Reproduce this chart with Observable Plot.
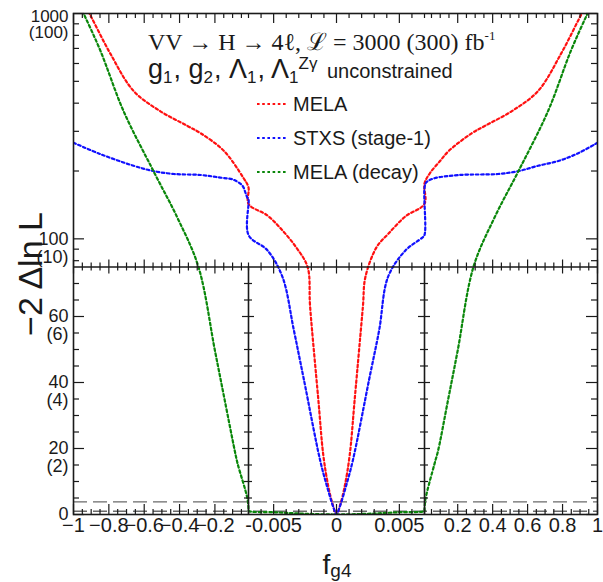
<!DOCTYPE html>
<html><head><meta charset="utf-8">
<script src="https://cdn.jsdelivr.net/npm/d3@7"></script>
<script src="https://cdn.jsdelivr.net/npm/@observablehq/plot@0.6"></script>
<style>
body{margin:0;background:#fff}
#chart{position:relative;width:603px;height:582px}
</style>
</head><body><div id="chart"></div>
<script>
// ---------------- data ----------------
const melaF = [-1, -0.91, -0.79, -0.66, -0.51, -0.355, -0.28, -0.15, -0.04, -0.01, -0.007, -0.0055, -0.0043, -0.0032, -0.0023, -0.0021, -0.00145, -0.00105, -0.00065, -0.0003, 0, 0.0003, 0.00065, 0.00105, 0.00145, 0.0021, 0.0023, 0.0032, 0.0041, 0.0055, 0.007, 0.01, 0.04, 0.1, 0.15, 0.28, 0.355, 0.51, 0.66, 0.79, 0.91, 1];
const melaV = [1350, 1000, 660, 453, 369, 317, 294, 246, 187, 169, 143, 127, 109, 91.5, 75, 63, 35, 18, 8.5, 3, 0, 3, 8.5, 18, 35, 63, 72, 92, 105, 126, 143, 176, 195, 222, 246, 294, 317, 369, 453, 660, 1000, 1350];

const stxsF = [-1, -0.85, -0.66, -0.55, -0.43, -0.28, -0.17, -0.095, -0.044, -0.027, -0.016, -0.01, -0.007, -0.0055, -0.0043, -0.0034, -0.0026, -0.0013, -0.00073, -0.00024, 0, 0.00024, 0.00073, 0.0013, 0.0026, 0.0034, 0.0041, 0.0055, 0.0068, 0.007, 0.01, 0.02, 0.06, 0.21, 0.43, 0.55, 0.66, 0.78, 0.89, 1];
const stxsV = [267, 238, 211, 200, 194, 192, 187, 183, 172, 160, 152, 150, 104, 89, 72, 56, 41, 16.4, 8.2, 2.1, 0, 2.1, 8.2, 16.4, 41, 56, 72, 89, 101, 104, 168, 178, 185, 192, 194, 200, 211, 222, 240, 267];

const decayF = [-1, -0.943, -0.847, -0.717, -0.548, -0.412, -0.293, -0.2, -0.144, -0.088, -0.072, -0.016, -0.01, -0.007, -0.005, -0.003, -0.001, 0, 0.001, 0.003, 0.005, 0.007, 0.01, 0.016, 0.068, 0.088, 0.144, 0.2, 0.29, 0.41, 0.548, 0.717, 0.847, 0.943, 1];
const decayV = [1240, 1000, 681, 369, 200, 124, 75, 49.7, 34.5, 19.4, 15.5, 4.8, 1.6, 1.1, 0.7, 0.3, 0.05, 0, 0.05, 0.3, 0.7, 1.1, 1.6, 4.8, 15.5, 19.4, 34.5, 49.7, 75, 124, 200, 369, 681, 1000, 1240];

const seriesNames = ["MELA", "STXS (stage-1)", "MELA (decay)"];
const seriesColors = ["#ff1010", "#1010ff", "#0a870a"];

const xTickValues = [-1, -0.8, -0.6, -0.4, -0.2, -0.005, 0, 0.005, 0.2, 0.4, 0.6, 0.8, 1];
const xTickLabels = ["\u22121", "\u22120.8", "\u22120.6", "\u22120.4", "\u22120.2", "-0.005", "0", "0.005", "0.2", "0.4", "0.6", "0.8", "1"];
const yTickValues = [0, 20, 40, 60, 100, 1000];
const yTickLabels = ["0", "20", "40", "60", "100", "1000"];
const yTickLabels300 = ["", "(2)", "(4)", "(6)", "(10)", "(100)"];
const clLevels = [1, 3.84];

// ---------------- layout / scales ----------------
const W = 603, H = 582, mL = 73, mR = 6, mT = 13, mB = 68;
const fw = W - mL - mR, fh = H - mT - mB;
const SPLIT = 75;                 // linear below, log above
const LIN_PX = 247.5, LOG_PX = 253.5;
const T = v => v <= SPLIT ? v / SPLIT * LIN_PX : LIN_PX + LOG_PX * Math.log10(v / SPLIT) / Math.log10(1000 / SPLIT);

const xDomain = [-1, -0.01, -0.007, 0.007, 0.01, 1];
const xRange = [mL, 248, 248, 424, 424, W - mR];

const rows = (F, V) => F.map((f, i) => ({f, v: V[i]}));
const melaRows = rows(melaF, melaV), stxsRows = rows(stxsF, stxsV), decayRows = rows(decayF, decayV);

// tick sets
const outerMinor = d3.range(1, 20).filter(i => i % 4 !== 0).map(i => i / 20);
const xMinor = [...outerMinor.map(d => -d), ...d3.range(-7, 8).filter(i => i % 5 !== 0).map(i => i / 1000), ...outerMinor];
const yMinor = [5, 10, 15, 25, 30, 35, 45, 50, 55, 65, 70, 80, 90, 200, 300, 400, 500, 600, 700, 800, 900];
const yLinMajor = [20, 40, 60];
const yLinMinor = [5, 10, 15, 25, 30, 35, 45, 50, 55, 65, 70];

const ink = "#1a1a1a";
const tk = {stroke: ink, strokeWidth: 1.2};
const dash = {strokeWidth: 2.2, strokeDasharray: "2.6,2.6", clip: true, curve: "catmull-rom"};

const svg = Plot.plot({
  width: W, height: H,
  marginLeft: mL, marginRight: mR, marginTop: mT, marginBottom: mB,
  x: {type: "linear", domain: xDomain, range: xRange, axis: null},
  y: {type: "linear", domain: [0, T(1000)], range: [H - mB, mT], axis: null},
  style: {fontFamily: "'Liberation Sans', Arial, sans-serif", background: "#fff", color: ink},
  marks: [
    // confidence-level lines
    Plot.ruleY(clLevels, {y: T, stroke: "#6a6a6a", strokeWidth: 1.4, strokeDasharray: "14,6"}),
    // curves
    Plot.line(melaRows, {x: "f", y: d => T(d.v), stroke: seriesColors[0], ...dash}),
    Plot.line(stxsRows, {x: "f", y: d => T(d.v), stroke: seriesColors[1], ...dash}),
    Plot.line(decayRows, {x: "f", y: d => T(d.v), stroke: seriesColors[2], ...dash}),
    // frame, split line and separators
    Plot.frame({stroke: ink, strokeWidth: 1.6}),
    Plot.ruleY([SPLIT], {y: T, stroke: ink, strokeWidth: 1.6}),
    Plot.ruleX([-0.01, 0.01], {y1: T(0), y2: T(SPLIT), stroke: ink, strokeWidth: 1.6}),
    // x ticks: bottom, top, split line
    Plot.ruleX(xTickValues, {insetTop: fh - 10, ...tk}),
    Plot.ruleX(xMinor, {insetTop: fh - 5, ...tk}),
    Plot.ruleX(xTickValues, {insetBottom: fh - 10, ...tk}),
    Plot.ruleX(xMinor, {insetBottom: fh - 5, ...tk}),
    Plot.ruleX(xTickValues, {y1: T(SPLIT), y2: T(SPLIT), insetTop: -7, insetBottom: -7, ...tk}),
    Plot.ruleX(xMinor, {y1: T(SPLIT), y2: T(SPLIT), insetTop: -4, insetBottom: -4, ...tk}),
    // y ticks: left, right, separators
    Plot.ruleY(yTickValues, {y: T, insetRight: fw - 11, ...tk}),
    Plot.ruleY(yMinor, {y: T, insetRight: fw - 6, ...tk}),
    Plot.ruleY(yTickValues, {y: T, insetLeft: fw - 11, ...tk}),
    Plot.ruleY(yMinor, {y: T, insetLeft: fw - 6, ...tk}),
    Plot.ruleY(yLinMajor, {y: T, x1: -0.01, x2: -0.01, insetLeft: -6, insetRight: -6, ...tk}),
    Plot.ruleY(yLinMinor, {y: T, x1: -0.01, x2: -0.01, insetLeft: -4, insetRight: -4, ...tk}),
    Plot.ruleY(yLinMajor, {y: T, x1: 0.01, x2: 0.01, insetLeft: -6, insetRight: -6, ...tk}),
    Plot.ruleY(yLinMinor, {y: T, x1: 0.01, x2: 0.01, insetLeft: -4, insetRight: -4, ...tk}),
    // tick labels
    Plot.text(xTickValues, {x: d => d, text: (d, i) => xTickLabels[i], frameAnchor: "bottom", dy: 17, fontSize: 20, fill: ink}),
    Plot.text(yTickValues.slice(0, 5), {y: T, text: (d, i) => yTickLabels[i], frameAnchor: "left", dx: -5, textAnchor: "end", fontSize: 18, fill: ink}),
    Plot.text(yTickValues.slice(1, 5), {y: T, text: (d, i) => yTickLabels300[i + 1], frameAnchor: "left", dx: -5, dy: 18, textAnchor: "end", fontSize: 18, fill: ink}),
    Plot.text([1000], {y: T, text: () => yTickLabels[5], frameAnchor: "left", dx: -5, dy: 3, textAnchor: "end", fontSize: 17, fill: ink}),
    Plot.text([1000], {y: T, text: () => yTickLabels300[5], frameAnchor: "left", dx: -5, dy: 19, textAnchor: "end", fontSize: 17, fill: ink})
  ]
});

// ---------------- annotations (title, legend, axis titles) ----------------
const s = d3.select(svg);
const sans = "'Liberation Sans', Arial, sans-serif";
const serif = "'Liberation Serif', 'Times New Roman', serif";

function rich(x, y, family, parts, anchor = "start") {
  const t = s.append("text").attr("x", x).attr("y", y).attr("font-family", family)
    .attr("fill", ink).attr("text-anchor", anchor);
  let prev = 0;
  for (const p of parts) {
    const sh = p.shift || 0;
    const ts = t.append("tspan").attr("dy", sh - prev).attr("font-size", p.size).text(p.t);
    if (p.dx) ts.attr("dx", p.dx);
    prev = sh;
  }
  return t;
}

rich(148, 50, serif, [
  {t: "VV \u2192 H \u2192 4\u2113, \u2112 = 3000 (300) fb", size: 24},
  {t: "-1", size: 13, shift: -10}
]);
rich(148, 78, sans, [
  {t: "g", size: 27}, {t: "1", size: 17, shift: 5},
  {t: ", g", size: 27, dx: 1}, {t: "2", size: 17, shift: 5},
  {t: ", \u039B", size: 27, dx: 1}, {t: "1", size: 17, shift: 5},
  {t: ", \u039B", size: 27, dx: 1}, {t: "1", size: 17, shift: 5},
  {t: "Z\u03B3", size: 17, shift: -9},
  {t: " unconstrained", size: 20, dx: 4}
]);

const legY = [104, 138, 172];
seriesNames.forEach((name, i) => {
  s.append("line").attr("x1", 257).attr("x2", 286).attr("y1", legY[i]).attr("y2", legY[i])
    .attr("stroke", seriesColors[i]).attr("stroke-width", 2.2).attr("stroke-dasharray", "2.6,2.6");
  s.append("text").attr("x", 293).attr("y", legY[i] + 7).attr("font-family", sans)
    .attr("text-anchor", "start").attr("font-size", 20).attr("fill", ink).text(name);
});

s.append("text").attr("transform", "translate(42,274) rotate(-90)").attr("text-anchor", "middle")
  .attr("font-family", sans).attr("font-size", 34).attr("fill", ink).text("\u22122 \u0394ln L");

rich(337, 574, sans, [{t: "f", size: 28}, {t: "g4", size: 19, shift: 3}], "middle");

document.getElementById("chart").appendChild(svg);
</script>
</body></html>
